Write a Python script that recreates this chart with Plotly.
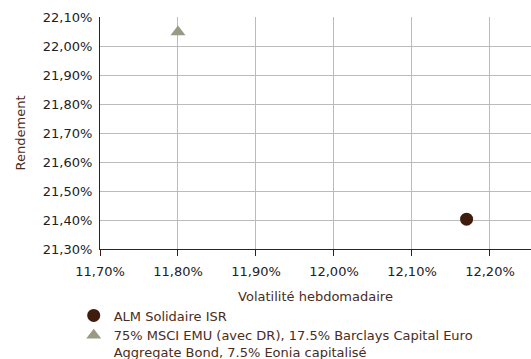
import plotly.graph_objects as go

series_names = ["ALM Solidaire ISR",
                "75% MSCI EMU (avec DR), 17.5% Barclays Capital Euro<br>Aggregate Bond, 7.5% Eonia capitalisé"]
volatility = [12.17, 11.80]   # %
returns = [21.403, 22.048]    # %
symbols = ["circle", "triangle-up"]
colors = ["#3f1c0b", "#999985"]

x_ticks = [11.70, 11.80, 11.90, 12.00, 12.10, 12.20]
y_ticks = [21.30, 21.40, 21.50, 21.60, 21.70, 21.80, 21.90, 22.00, 22.10]

fig = go.Figure()
for name, vx, vy, sym, col in zip(series_names, volatility, returns, symbols, colors):
    fig.add_trace(go.Scatter(x=[vx], y=[vy], mode="markers", name=name,
                             marker=dict(symbol=sym, size=13, color=col)))

font = "DejaVu Sans, Verdana, sans-serif"
fig.update_layout(
    width=531, height=359,
    margin=dict(l=100, r=0, t=17, b=110, autoexpand=False),
    paper_bgcolor="white", plot_bgcolor="white",
    separators=", ",
    font=dict(family=font, size=13, color="#222222"),
    showlegend=True,
    legend=dict(orientation="v", x=-0.061, xanchor="left", y=-0.222, yanchor="top",
                font=dict(family=font, size=13, color="#4a2c1c"),
                valign="top", tracegroupgap=0, bgcolor="rgba(0,0,0,0)"),
)
fig.update_xaxes(range=[11.70, 12.2526], tickvals=x_ticks,
                 ticktext=[f"{v:.2f}%".replace(".", ",") for v in x_ticks],
                 showgrid=True, gridcolor="#bbbbbb", gridwidth=1,
                 showline=True, linecolor="#3f1c0b", linewidth=1,
                 ticks="outside", ticklen=6, tickcolor="#3f1c0b",
                 ticklabelstandoff=4,
                 zeroline=False, automargin=False,
                 title=dict(text="Volatilité hebdomadaire", standoff=14,
                            font=dict(family=font, size=13, color="#4a2c1c")))
fig.update_yaxes(range=[21.30, 22.10], tickvals=y_ticks,
                 ticktext=[f"{v:.2f}%".replace(".", ",") for v in y_ticks],
                 showgrid=True, gridcolor="#bbbbbb", gridwidth=1,
                 showline=True, linecolor="#3f1c0b", linewidth=1,
                 ticks="", ticklabelstandoff=4, zeroline=False, automargin=False,
                 title=dict(text="Rendement", standoff=14,
                            font=dict(family=font, size=13, color="#4a2c1c")))

fig.write_html("out.html", config={"displayModeBar": False},
               post_script="document.body.style.margin='0';document.body.style.overflow='hidden';")
